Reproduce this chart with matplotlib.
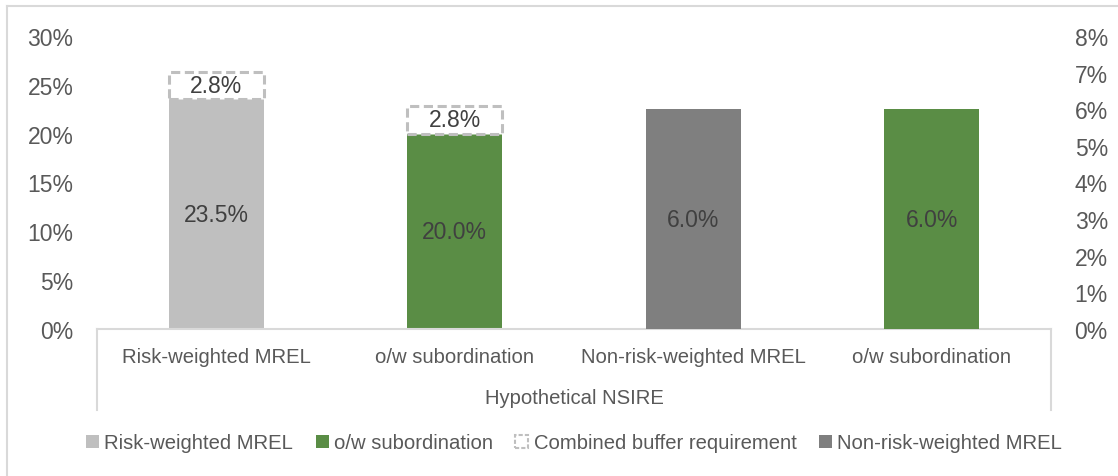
import numpy as np
import matplotlib.pyplot as plt
from matplotlib.patches import Patch
from matplotlib.lines import Line2D

plt.rcParams['font.family'] = ['Liberation Sans', 'DejaVu Sans']

categories = ['Risk-weighted MREL', 'o/w subordination', 'Non-risk-weighted MREL', 'o/w subordination']
group_label = 'Hypothetical NSIRE'
# left axis bars (risk-weighted)
rw_values = [23.5, 20.0]
rw_buffer = [2.8, 2.8]
# right axis bars (non-risk-weighted)
nrw_values = [6.0, 6.0]

left_ticks = [0, 5, 10, 15, 20, 25, 30]
right_ticks = [0, 1, 2, 3, 4, 5, 6, 7, 8]

c_light = '#BFBFBF'
c_green = '#5A8D45'
c_dark = '#7F7F7F'
c_txt = '#595959'
c_lbl = '#404040'
c_line = '#D9D9D9'
num_fs = 16.5
txt_fs = 14.6

fig = plt.figure(figsize=(11.18, 4.77), dpi=100)
ax1 = fig.add_axes([97/1118, 1-330/477, (1051-97)/1118, (330-37)/477])
ax2 = ax1.twinx()

x = np.arange(len(categories))
w = 0.4

# risk-weighted bars on left axis
ax1.bar(x[:2], rw_values, width=w, color=[c_light, c_green], zorder=2)
ax1.bar(x[:2], rw_buffer, width=w, bottom=rw_values, color='white',
        edgecolor=c_light, linewidth=2.2, linestyle=(0, (3, 1.5)), zorder=2)
for xi, v, b in zip(x[:2], rw_values, rw_buffer):
    ax1.text(xi, v/2, '%.1f%%' % v, ha='center', va='center', fontsize=num_fs, color=c_lbl)
    ax1.text(xi, v + b/2, '%.1f%%' % b, ha='center', va='center', fontsize=num_fs, color=c_lbl)

# non-risk-weighted bars on right axis
ax2.bar(x[2:], nrw_values, width=w, color=[c_dark, c_green], zorder=2)
for xi, v in zip(x[2:], nrw_values):
    ax2.text(xi, v/2, '%.1f%%' % v, ha='center', va='center', fontsize=num_fs, color=c_lbl)

ax1.set_xlim(-0.5, len(categories) - 0.5)
ax1.set_ylim(0, 30)
ax2.set_ylim(0, 8)
ax1.set_yticks(left_ticks)
ax1.set_yticklabels(['%d%%' % t for t in left_ticks])
ax2.set_yticks(right_ticks)
ax2.set_yticklabels(['%d%%' % t for t in right_ticks])
ax1.set_xticks([])

for a in (ax1, ax2):
    for s in a.spines.values():
        s.set_visible(False)
    a.tick_params(axis='y', length=0, labelsize=num_fs, labelcolor=c_txt, pad=17)
ax1.spines['bottom'].set_visible(True)
ax1.spines['bottom'].set_color(c_line)
ax1.spines['bottom'].set_linewidth(1.5)

# multi-level category axis
for xi, lab in zip(x, categories):
    ax1.text(xi, -0.095, lab, transform=ax1.get_xaxis_transform(), ha='center', va='center',
             fontsize=txt_fs, color=c_txt)
ax1.text(1.5, -0.235, group_label, transform=ax1.get_xaxis_transform(), ha='center', va='center',
         fontsize=txt_fs, color=c_txt)
for xe in (-0.5, len(categories) - 0.5):
    ax1.plot([xe, xe], [0, -0.275], transform=ax1.get_xaxis_transform(), color=c_line,
             linewidth=1.5, clip_on=False)

# legend
handles = [Patch(facecolor=c_light), Patch(facecolor=c_green),
           Patch(facecolor='white', edgecolor=c_light, linewidth=1.5, linestyle=(0, (2, 1))),
           Patch(facecolor=c_dark)]
labels = ['Risk-weighted MREL', 'o/w subordination', 'Combined buffer requirement', 'Non-risk-weighted MREL']
fig.legend(handles, labels, loc='center', bbox_to_anchor=(574/1118, 1-444/477), ncol=4,
           frameon=False, fontsize=txt_fs, labelcolor=c_txt, handlelength=0.65, handleheight=0.65,
           handletextpad=0.25, columnspacing=1.1)

# outer frame
fig.add_artist(Line2D([7/1118, 1], [1-7/477, 1-7/477], color=c_line, linewidth=1.5))
fig.add_artist(Line2D([7/1118, 7/1118], [0, 1-7/477], color=c_line, linewidth=1.5))

plt.savefig('out.png', dpi=100)
